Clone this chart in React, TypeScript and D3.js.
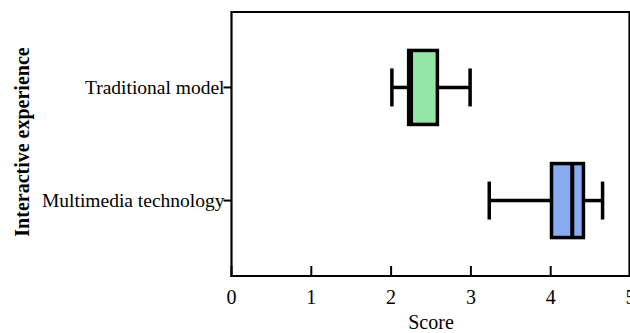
import React from "react";
import * as d3 from "d3";

const categories = ["Traditional model", "Multimedia technology"];
const whiskerLow = [2.01, 3.23];
const q1 = [2.22, 4.01];
const medians = [2.25, 4.27];
const q3 = [2.58, 4.41];
const whiskerHigh = [2.99, 4.65];
const fills = ["#93e6a6", "#8aaaf0"];
const xTicks = [0, 1, 2, 3, 4, 5];

export default function App() {
  const W = 630, H = 333;
  const left = 231.5, right = 630.5, top = 12, bottom = 276;
  const x = d3.scaleLinear().domain([0, 5]).range([left, right]);
  const y = d3.scalePoint<string>().domain(categories).range([top, bottom]).padding(0.667);
  const boxH = 74;
  const capH = 38;
  const font = "'Liberation Serif', 'Times New Roman', serif";
  return (
    <svg width={W} height={H} style={{ position: "absolute", left: 0, top: 0 }}>
      <rect x={0} y={0} width={W} height={H} fill="#fff" />
      {/* frame */}
      <line x1={left} x2={W + 2} y1={top} y2={top} stroke="#000" strokeWidth={2.2} />
      <line x1={left} x2={left} y1={top - 1} y2={bottom + 1} stroke="#000" strokeWidth={2.2} />
      <line x1={left - 1} x2={W + 2} y1={bottom} y2={bottom} stroke="#000" strokeWidth={2.2} />
      <line x1={right - 1} x2={right - 1} y1={top} y2={bottom} stroke="#000" strokeWidth={2.2} />
      {xTicks.map((t) => (
        <g key={t}>
          <line x1={x(t)} x2={x(t)} y1={bottom} y2={bottom - 10} stroke="#000" strokeWidth={2} />
          <text x={x(t)} y={bottom + 28} textAnchor="middle" fontFamily={font} fontSize={20}>{t}</text>
        </g>
      ))}
      {categories.map((c, i) => {
        const cy = y(c)!;
        return (
          <g key={c}>
            <line x1={left - 8} x2={left} y1={cy} y2={cy} stroke="#000" strokeWidth={2} />
            <text x={left - 7} y={cy} dy="0.35em" textAnchor="end" fontFamily={font} fontSize={19.5}>{c}</text>
            <line x1={x(whiskerLow[i])} x2={x(q1[i])} y1={cy} y2={cy} stroke="#000" strokeWidth={3.5} />
            <line x1={x(q3[i])} x2={x(whiskerHigh[i])} y1={cy} y2={cy} stroke="#000" strokeWidth={3.5} />
            <line x1={x(whiskerLow[i])} x2={x(whiskerLow[i])} y1={cy - capH / 2} y2={cy + capH / 2} stroke="#000" strokeWidth={3.5} />
            <line x1={x(whiskerHigh[i])} x2={x(whiskerHigh[i])} y1={cy - capH / 2} y2={cy + capH / 2} stroke="#000" strokeWidth={3.5} />
            <rect x={x(q1[i])} y={cy - boxH / 2} width={x(q3[i]) - x(q1[i])} height={boxH} fill={fills[i]} stroke="#000" strokeWidth={3.5} />
            <line x1={x(medians[i])} x2={x(medians[i])} y1={cy - boxH / 2} y2={cy + boxH / 2} stroke="#000" strokeWidth={4} />
          </g>
        );
      })}
      <text x={431} y={329} textAnchor="middle" fontFamily={font} fontSize={20}>Score</text>
      <text transform={`translate(29,142) rotate(-90)`} textAnchor="middle" fontFamily={font} fontSize={20} fontWeight="bold">Interactive experience</text>
    </svg>
  );
}
